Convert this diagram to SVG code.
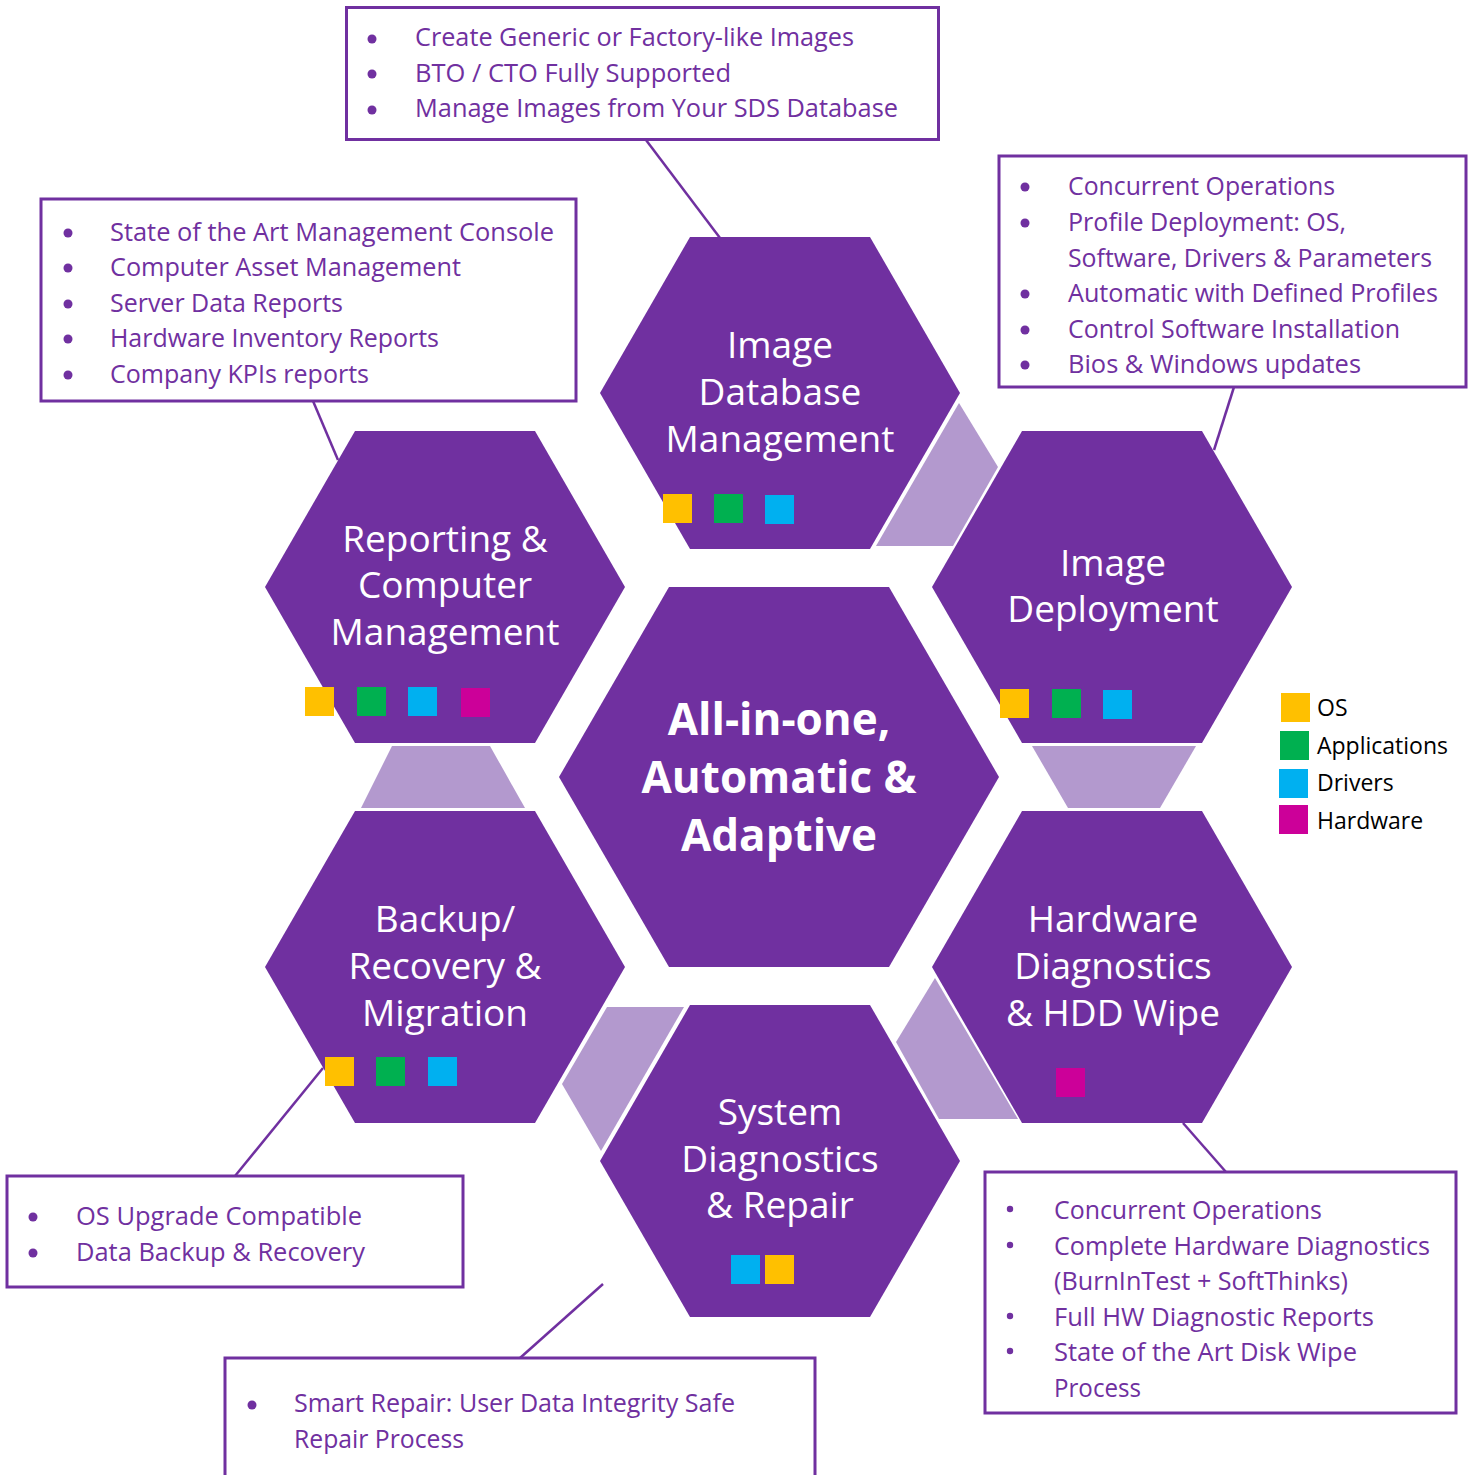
<svg xmlns="http://www.w3.org/2000/svg" width="1473" height="1475" viewBox="0 0 1473 1475">
<style>
.hex{fill:#7030A0}
.link{fill:#B399CE}
.box{fill:#fff;stroke:#7030A0;stroke-width:3}
.conn{stroke:#7030A0;stroke-width:2.5;fill:none}
.bt{font-family:"Open Sans","Liberation Sans",sans-serif;font-size:25.5px;fill:#7030A0}
.bul{fill:#7030A0}
.hl{font-family:"Open Sans","Liberation Sans",sans-serif;font-size:37px;fill:#fff;text-anchor:middle}
.cl{font-family:"Open Sans","Liberation Sans",sans-serif;font-size:44px;font-weight:bold;fill:#fff;text-anchor:middle}
.lg{font-family:"Open Sans","Liberation Sans",sans-serif;font-size:23px;fill:#000}
.os{fill:#FFC000}.ap{fill:#00B050}.dr{fill:#00B0F0}.hw{fill:#CC0099}
</style>
<rect width="1473" height="1475" fill="#fff"/>

<g id="links">
<polygon class="link" points="876,546 959,403 998,467 953,546"/>
<polygon class="link" points="1032,746 1196,746 1160,808 1068,808"/>
<polygon class="link" points="392,746 490,746 525,808 361,808"/>
<polygon class="link" points="607,1007 684,1007 601,1151 562,1084"/>
<polygon class="link" points="935,978 1018,1119 939,1119 896,1042"/>
</g>

<g id="connectors">
<line class="conn" x1="646" y1="140" x2="720" y2="238"/>
<line class="conn" x1="313" y1="401" x2="338" y2="460"/>
<line class="conn" x1="1234" y1="387" x2="1214" y2="450"/>
<line class="conn" x1="235" y1="1176" x2="323" y2="1068"/>
<line class="conn" x1="520" y1="1358" x2="603" y2="1284"/>
<line class="conn" x1="1183" y1="1123" x2="1226" y2="1172"/>
</g>

<g id="hex-db">
<polygon class="hex" points="600,393 690,237 870,237 960,393 870,549 690,549"/>
<text class="hl" x="780" y="358">Image</text>
<text class="hl" x="780" y="405">Database</text>
<text class="hl" x="780" y="452">Management</text>
<rect class="os" x="663" y="494" width="29" height="29"/>
<rect class="ap" x="714" y="494" width="29" height="29"/>
<rect class="dr" x="765" y="495" width="29" height="29"/>
</g>

<g id="hex-reporting">
<polygon class="hex" points="265,587 355,431 535,431 625,587 535,743 355,743"/>
<text class="hl" x="445" y="552">Reporting &amp;</text>
<text class="hl" x="445" y="598">Computer</text>
<text class="hl" x="445" y="645">Management</text>
<rect class="os" x="305" y="687" width="29" height="29"/>
<rect class="ap" x="357" y="687" width="29" height="29"/>
<rect class="dr" x="408" y="687" width="29" height="29"/>
<rect class="hw" x="461" y="688" width="29" height="29"/>
</g>

<g id="hex-deployment">
<polygon class="hex" points="932,587 1022,431 1202,431 1292,587 1202,743 1022,743"/>
<text class="hl" x="1113" y="576">Image</text>
<text class="hl" x="1113" y="622">Deployment</text>
<rect class="os" x="1000" y="689" width="29" height="29"/>
<rect class="ap" x="1052" y="689" width="29" height="29"/>
<rect class="dr" x="1103" y="690" width="29" height="29"/>
</g>

<g id="hex-center">
<polygon class="hex" points="559,777 669,587 889,587 999,777 889,967 669,967"/>
<text class="cl" x="779" y="735">All-in-one,</text>
<text class="cl" x="779" y="793">Automatic &amp;</text>
<text class="cl" x="779" y="851">Adaptive</text>
</g>

<g id="hex-backup">
<polygon class="hex" points="265,967 355,811 535,811 625,967 535,1123 355,1123"/>
<text class="hl" x="445" y="932">Backup/</text>
<text class="hl" x="445" y="979">Recovery &amp;</text>
<text class="hl" x="445" y="1026">Migration</text>
<rect class="os" x="325" y="1057" width="29" height="29"/>
<rect class="ap" x="376" y="1057" width="29" height="29"/>
<rect class="dr" x="428" y="1057" width="29" height="29"/>
</g>

<g id="hex-hardware">
<polygon class="hex" points="932,967 1022,811 1202,811 1292,967 1202,1123 1022,1123"/>
<text class="hl" x="1113" y="932">Hardware</text>
<text class="hl" x="1113" y="979">Diagnostics</text>
<text class="hl" x="1113" y="1026">&amp; HDD Wipe</text>
<rect class="hw" x="1056" y="1068" width="29" height="29"/>
</g>

<g id="hex-system">
<polygon class="hex" points="600,1161 690,1005 870,1005 960,1161 870,1317 690,1317"/>
<text class="hl" x="780" y="1125">System</text>
<text class="hl" x="780" y="1172">Diagnostics</text>
<text class="hl" x="780" y="1218">&amp; Repair</text>
<rect class="dr" x="731" y="1255" width="29" height="29"/>
<rect class="os" x="765" y="1255" width="29" height="29"/>
</g>

<g id="box-top">
<rect class="box" x="346.5" y="7.5" width="592" height="132"/>
<circle class="bul" cx="372" cy="39" r="4.5"/>
<circle class="bul" cx="372" cy="74" r="4.5"/>
<circle class="bul" cx="372" cy="110" r="4.5"/>
<text class="bt" x="415" y="46" textLength="439" lengthAdjust="spacingAndGlyphs">Create Generic or Factory-like Images</text>
<text class="bt" x="415" y="82" textLength="316" lengthAdjust="spacingAndGlyphs">BTO / CTO Fully Supported</text>
<text class="bt" x="415" y="117" textLength="483" lengthAdjust="spacingAndGlyphs">Manage Images from Your SDS Database</text>
</g>

<g id="box-left">
<rect class="box" x="41" y="199" width="535" height="202"/>
<circle class="bul" cx="68" cy="233" r="4.5"/>
<circle class="bul" cx="68" cy="268" r="4.5"/>
<circle class="bul" cx="68" cy="304" r="4.5"/>
<circle class="bul" cx="68" cy="339" r="4.5"/>
<circle class="bul" cx="68" cy="375" r="4.5"/>
<text class="bt" x="110" y="241" textLength="444" lengthAdjust="spacingAndGlyphs">State of the Art Management Console</text>
<text class="bt" x="110" y="276" textLength="351" lengthAdjust="spacingAndGlyphs">Computer Asset Management</text>
<text class="bt" x="110" y="312" textLength="233" lengthAdjust="spacingAndGlyphs">Server Data Reports</text>
<text class="bt" x="110" y="347" textLength="329" lengthAdjust="spacingAndGlyphs">Hardware Inventory Reports</text>
<text class="bt" x="110" y="383" textLength="259" lengthAdjust="spacingAndGlyphs">Company KPIs reports</text>
</g>

<g id="box-right">
<rect class="box" x="999" y="156" width="467" height="231"/>
<circle class="bul" cx="1025" cy="187" r="4.5"/>
<circle class="bul" cx="1025" cy="223" r="4.5"/>
<circle class="bul" cx="1025" cy="294" r="4.5"/>
<circle class="bul" cx="1025" cy="330" r="4.5"/>
<circle class="bul" cx="1025" cy="365" r="4.5"/>
<text class="bt" x="1068" y="195" textLength="267" lengthAdjust="spacingAndGlyphs">Concurrent Operations</text>
<text class="bt" x="1068" y="231" textLength="278" lengthAdjust="spacingAndGlyphs">Profile Deployment: OS,</text>
<text class="bt" x="1068" y="267" textLength="364" lengthAdjust="spacingAndGlyphs">Software, Drivers &amp; Parameters</text>
<text class="bt" x="1068" y="302" textLength="370" lengthAdjust="spacingAndGlyphs">Automatic with Defined Profiles</text>
<text class="bt" x="1068" y="338" textLength="332" lengthAdjust="spacingAndGlyphs">Control Software Installation</text>
<text class="bt" x="1068" y="373" textLength="293" lengthAdjust="spacingAndGlyphs">Bios &amp; Windows updates</text>
</g>

<g id="box-bottom-left">
<rect class="box" x="7" y="1176" width="456" height="111"/>
<circle class="bul" cx="33" cy="1217" r="4.5"/>
<circle class="bul" cx="33" cy="1253" r="4.5"/>
<text class="bt" x="76" y="1225" textLength="286" lengthAdjust="spacingAndGlyphs">OS Upgrade Compatible</text>
<text class="bt" x="76" y="1261" textLength="289" lengthAdjust="spacingAndGlyphs">Data Backup &amp; Recovery</text>
</g>

<g id="box-bottom">
<rect class="box" x="225" y="1358" width="590" height="130"/>
<circle class="bul" cx="252" cy="1405" r="4.5"/>
<text class="bt" x="294" y="1412" textLength="441" lengthAdjust="spacingAndGlyphs">Smart Repair: User Data Integrity Safe</text>
<text class="bt" x="294" y="1448" textLength="170" lengthAdjust="spacingAndGlyphs">Repair Process</text>
</g>

<g id="box-bottom-right">
<rect class="box" x="985" y="1172" width="471" height="241"/>
<circle class="bul" cx="1010" cy="1209" r="3.2"/>
<circle class="bul" cx="1010" cy="1245" r="3.2"/>
<circle class="bul" cx="1010" cy="1316" r="3.2"/>
<circle class="bul" cx="1010" cy="1351" r="3.2"/>
<text class="bt" x="1054" y="1219" textLength="268" lengthAdjust="spacingAndGlyphs">Concurrent Operations</text>
<text class="bt" x="1054" y="1255" textLength="376" lengthAdjust="spacingAndGlyphs">Complete Hardware Diagnostics</text>
<text class="bt" x="1054" y="1290" textLength="294" lengthAdjust="spacingAndGlyphs">(BurnInTest + SoftThinks)</text>
<text class="bt" x="1054" y="1326" textLength="320" lengthAdjust="spacingAndGlyphs">Full HW Diagnostic Reports</text>
<text class="bt" x="1054" y="1361" textLength="303" lengthAdjust="spacingAndGlyphs">State of the Art Disk Wipe</text>
<text class="bt" x="1054" y="1397" textLength="87" lengthAdjust="spacingAndGlyphs">Process</text>
</g>

<g id="legend">
<rect class="os" x="1281" y="693" width="29" height="29"/>
<rect class="ap" x="1280" y="731" width="29" height="29"/>
<rect class="dr" x="1279" y="769" width="29" height="29"/>
<rect class="hw" x="1279" y="805" width="29" height="29"/>
<text class="lg" x="1317" y="716">OS</text>
<text class="lg" x="1317" y="754">Applications</text>
<text class="lg" x="1317" y="791">Drivers</text>
<text class="lg" x="1317" y="829">Hardware</text>
</g>
</svg>
